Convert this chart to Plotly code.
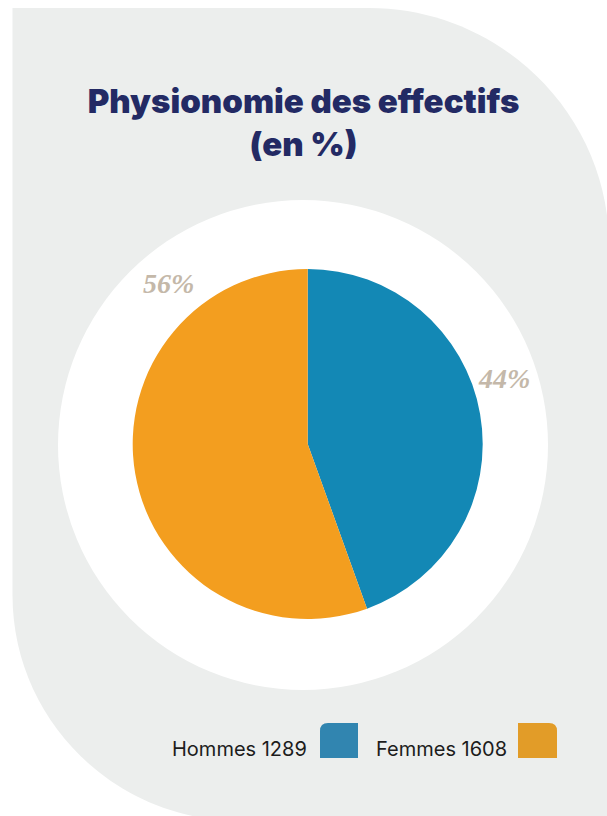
import plotly.graph_objects as go

# ---- data ----
categories = ["Hommes", "Femmes"]
effectifs = [1289, 1608]
percent_labels = ["44%", "56%"]
pie_colors = ["#1388b5", "#f39e1f"]
legend_colors = ["#3185b0", "#e29c28"]
title_text = "Physionomie des effectifs<br>(en %)"

W, H = 607, 816

fig = go.Figure()

fig.add_trace(go.Pie(
    labels=categories,
    values=effectifs,
    marker=dict(colors=pie_colors, line=dict(width=0)),
    sort=False,
    direction="clockwise",
    rotation=0,
    textinfo="none",
    hoverinfo="label+value+percent",
    showlegend=False,
    domain=dict(x=[132.7 / W, 482.7 / W], y=[1 - 619 / H, 1 - 269 / H]),
))

k = 0.5523
# grey background card: square top-left, rounded top-right and bottom-left
R1 = 238
R2x, R2y = 228, 226
x0, y0 = 12.5, 8
path = (
    f"M {x0},{y0} L {W - R1},{y0} "
    f"C {W - R1 + k * R1},{y0} {W + 2},{y0 + R1 - k * R1} {W + 2},{y0 + R1} "
    f"L {W + 2},{H + 5} L {x0 + R2x},{H + 5} "
    f"C {x0 + R2x - k * R2x},{H + 5} {x0},{H + 5 - R2y + k * R2y} {x0},{H + 5 - R2y} Z"
)
shapes = [
    dict(type="path", path=path, xref="x", yref="y", fillcolor="#eceeed",
         line=dict(width=0), layer="below"),
    dict(type="circle", xref="x", yref="y", x0=303 - 245, x1=303 + 245,
         y0=445 - 245, y1=445 + 245, fillcolor="white", line=dict(width=0),
         layer="below"),
]

# legend swatches (text then square with one rounded corner)
r = 8
sw = [(320, 723, 358, 758, "tl"), (518, 723, 557, 758, "tr")]
for (a, b, c, d, corner), col in zip(sw, legend_colors):
    if corner == "tl":
        p = f"M {a},{d} L {a},{b + r} Q {a},{b} {a + r},{b} L {c},{b} L {c},{d} Z"
    else:
        p = f"M {a},{d} L {a},{b} L {c - r},{b} Q {c},{b} {c},{b + r} L {c},{d} Z"
    shapes.append(dict(type="path", path=p, xref="x", yref="y", fillcolor=col,
                       line=dict(width=0)))

annotations = []
# percentage labels
label_pos = [(504, 378), (168, 283)]
for (lx, ly), t in zip(label_pos, percent_labels):
    annotations.append(dict(x=lx, y=ly, xref="x", yref="y", text=f"<b><i>{t}</i></b>",
                            showarrow=False, xanchor="center", yanchor="middle",
                            font=dict(family="Liberation Serif", size=28, color="#c4b8a9")))
# legend texts
legend_text_right = [309, 509]
for tx, cat, n in zip(legend_text_right, categories, effectifs):
    annotations.append(dict(x=tx, y=749, xref="x", yref="y", text=f"{cat} {n}",
                            showarrow=False, xanchor="right", yanchor="middle",
                            font=dict(family="Inter", size=20, color="#1c1c1c")))

fig.update_layout(
    width=W, height=H,
    margin=dict(l=0, r=0, t=0, b=0),
    paper_bgcolor="white", plot_bgcolor="rgba(0,0,0,0)",
    xaxis=dict(range=[0, W], visible=False, fixedrange=True),
    yaxis=dict(range=[H, 0], visible=False, fixedrange=True),
    shapes=shapes,
    annotations=annotations,
    title=dict(text=title_text, x=0.5, xanchor="center", y=1 - 113 / H, yanchor="middle",
               font=dict(family="Inter", size=33, color="#232a64", weight=900)),
    showlegend=False,
)

fig.write_html("out.html", config={"displayModeBar": False},
               post_script="document.body.style.margin='0';")
